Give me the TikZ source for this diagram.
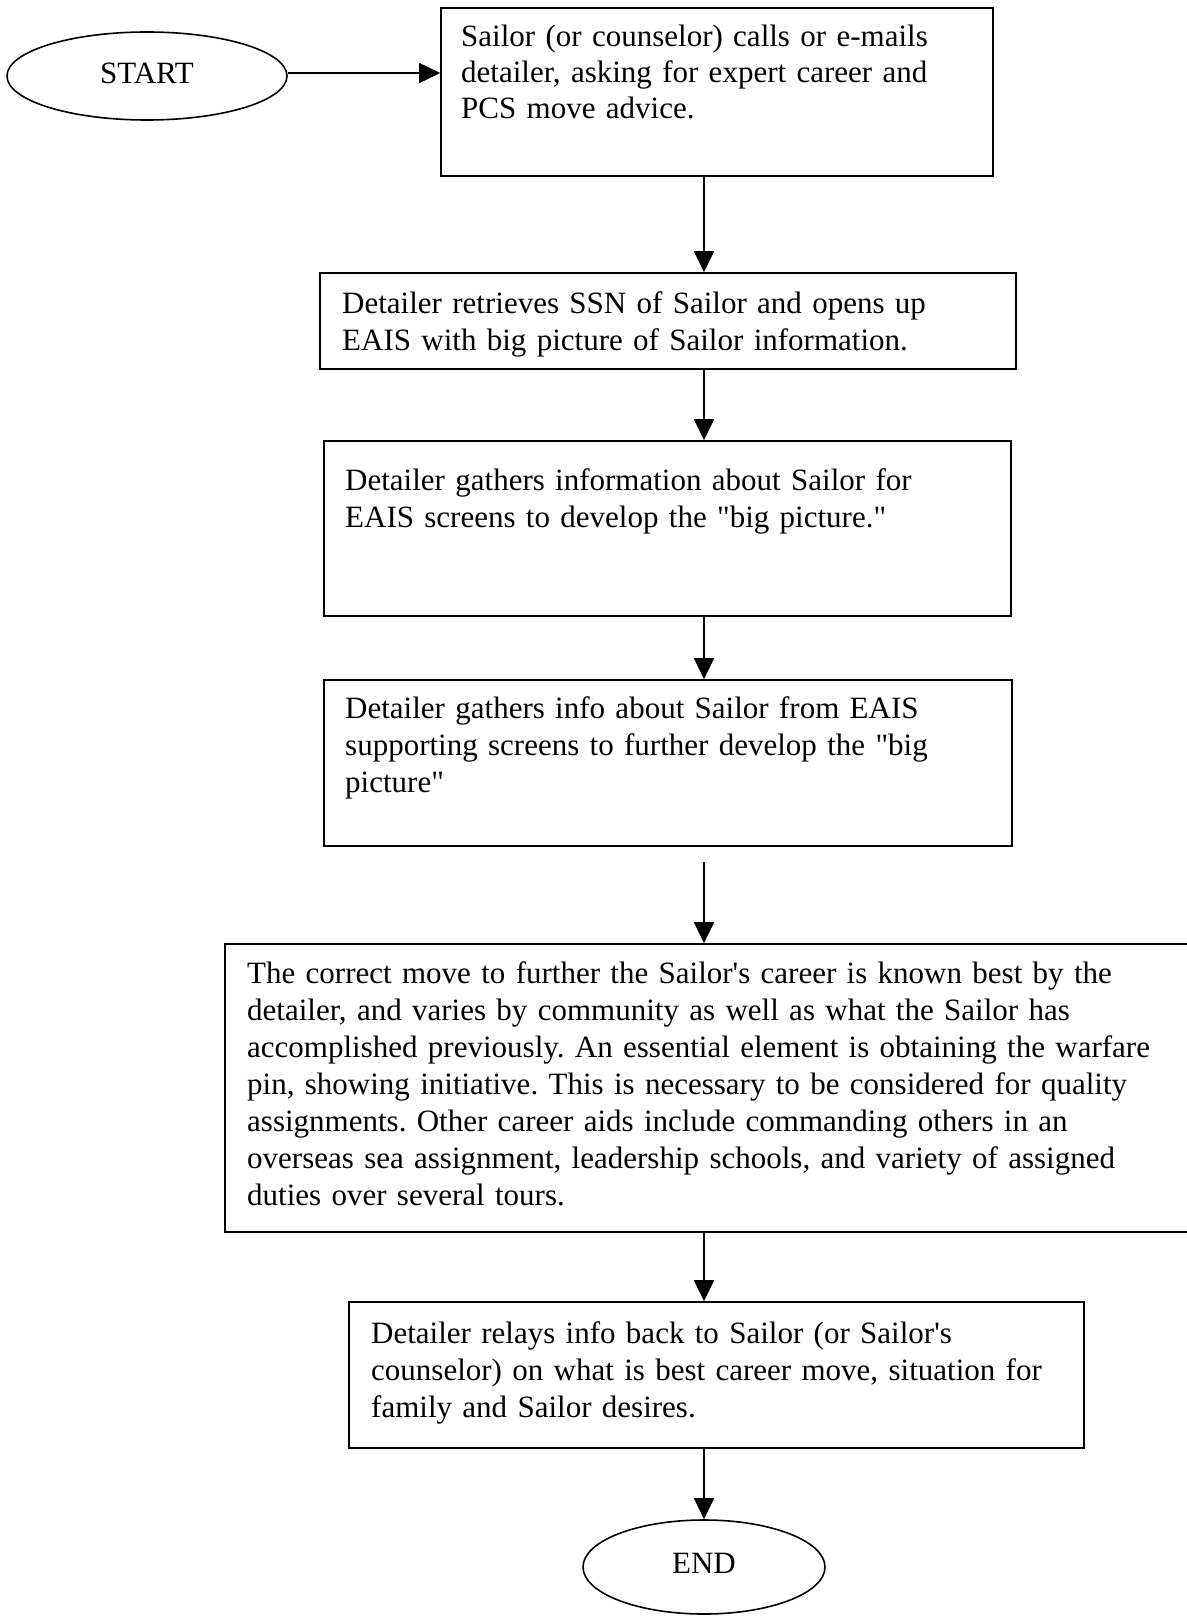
\documentclass[tikz,border=0pt]{standalone}
\usepackage{fontspec}
\setmainfont{Liberation Serif}[Ligatures=TeXOff]
\usetikzlibrary{arrows.meta,shapes.geometric}
\begin{document}
\frenchspacing
\begin{tikzpicture}[x=1pt,y=-1pt,
  every node/.style={font=\fontsize{31}{37}\selectfont},
  stepbox/.style={draw,line width=1.6pt,rectangle,inner sep=0pt},
  terminal/.style={draw,line width=1.6pt,ellipse,inner sep=0pt},
  boxtext/.style={anchor=base west,inner sep=0pt,text width=1000pt,align=left},
  flow/.style={line width=1.6pt,-{Triangle[length=21pt,width=20pt]}}]
\useasboundingbox (0,0) rectangle (1186,1616);
\fill[white] (0,0) rectangle (1186,1616);

% terminals
\node[terminal,minimum width=280pt,minimum height=88pt] (start) at (147,76) {};
\node[inner sep=0pt] (startlabel) at (147,73) {START};
\node[terminal,minimum width=242pt,minimum height=94pt] (end) at (704,1567) {};
\node[inner sep=0pt] (endlabel) at (704,1563) {END};

% process boxes
\node[stepbox,minimum width=552pt,minimum height=168pt] (b1) at (717,92) {};
\node[stepbox,minimum width=696pt,minimum height=96pt] (b2) at (668,321) {};
\node[stepbox,minimum width=687pt,minimum height=175pt] (b3) at (667.5,528.5) {};
\node[stepbox,minimum width=688pt,minimum height=166pt] (b4) at (668,763) {};
\node[stepbox,minimum width=975pt,minimum height=288pt] (b5) at (712.5,1088) {};
\node[stepbox,minimum width=735pt,minimum height=146pt] (b6) at (716.5,1375) {};

% box texts
\node[boxtext,font=\fontsize{31}{36}\selectfont] (t1) at (461,47) {Sailor (or counselor) calls or e-mails\\detailer, asking for expert career and\\PCS move advice.};
\node[boxtext] (t2) at (342,313) {Detailer retrieves SSN of Sailor and opens up\\EAIS with big picture of Sailor information.};
\node[boxtext] (t3) at (345,490) {Detailer gathers information about Sailor for\\EAIS screens to develop the "big picture."};
\node[boxtext] (t4) at (345,718) {Detailer gathers info about Sailor from EAIS\\supporting screens to further develop the "big\\picture"};
\node[boxtext] (t5) at (247,983) {The correct move to further the Sailor's career is known best by the\\detailer, and varies by community as well as what the Sailor has\\accomplished previously. An essential element is obtaining the warfare\\pin, showing initiative. This is necessary to be considered for quality\\assignments. Other career aids include commanding others in an\\overseas sea assignment, leadership schools, and variety of assigned\\duties over several tours.};
\node[boxtext] (t6) at (371,1343) {Detailer relays info back to Sailor (or Sailor's\\counselor) on what is best career move, situation for\\family and Sailor desires.};

% connectors
\coordinate (col) at (704,0);
\coordinate (gap) at (704,862);
\draw[flow] ([yshift=3pt]start.east) -- ([yshift=3pt]start.east -| b1.west);
\draw[flow] (b1.south -| col) -- (b2.north -| col);
\draw[flow] (b2.south -| col) -- (b3.north -| col);
\draw[flow] (b3.south -| col) -- (b4.north -| col);
\draw[flow] (gap) -- (b5.north -| col);
\draw[flow] (b5.south -| col) -- (b6.north -| col);
\draw[flow] (b6.south -| col) -- (end.north);
\end{tikzpicture}
\end{document}
